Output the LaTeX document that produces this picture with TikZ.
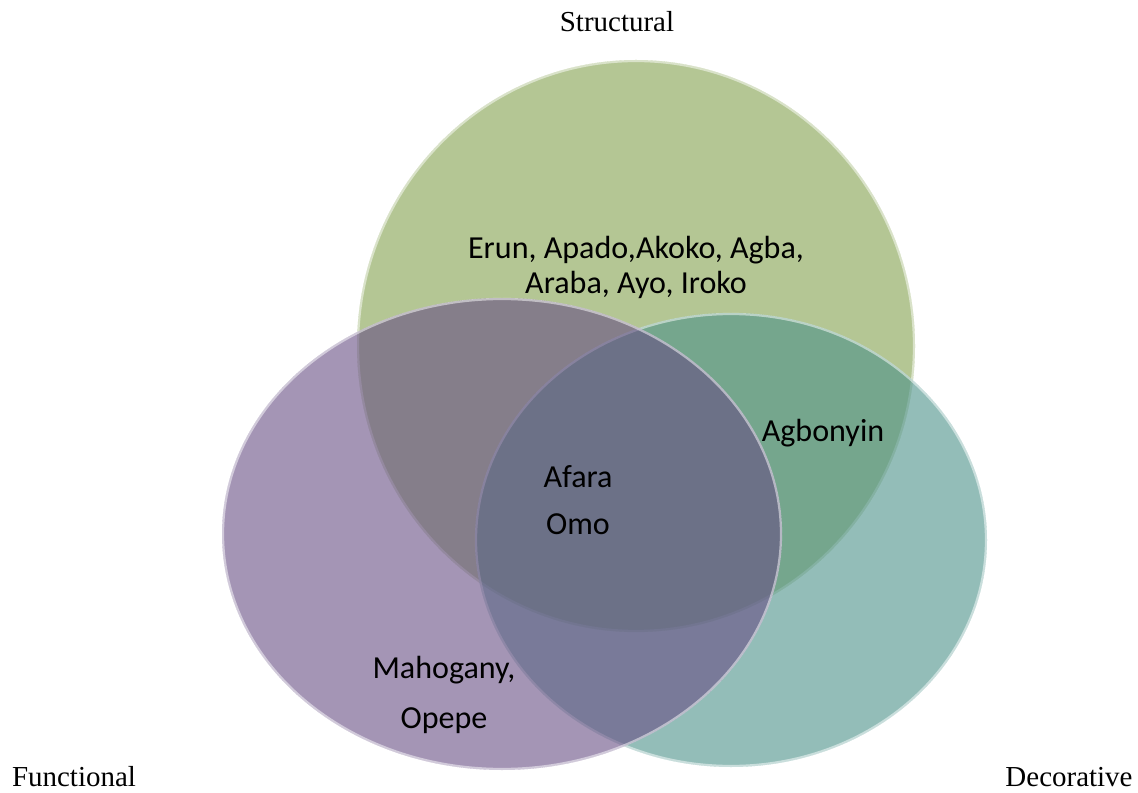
\documentclass[tikz,border=0pt]{standalone}
\usepackage{fontspec}
\setmainfont{Liberation Serif}
\newfontfamily\calfont{Carlito}
\definecolor{structgreen}{RGB}{130, 160, 77}
\definecolor{decoteal}{RGB}{75, 145, 137}
\definecolor{funcpurple}{RGB}{103, 78, 132}
\usetikzlibrary{positioning}
\tikzset{
    vennset/.style={fill opacity=0.6},
    vennrim/.style={draw=white, draw opacity=0.5, line width=1.6pt},
    innerlabel/.style={align=center, text=black,
                       font=\calfont\fontsize{22.8}{24.9}\selectfont},
    setlabel/.style={text=black, inner sep=1pt, font=\fontsize{20.6}{24}\selectfont},
}
\begin{document}
\begin{tikzpicture}[x=0.025cm, y=-0.025cm]
            \useasboundingbox (0,0) rectangle (1138,793);
            
            % Sets
            \fill[vennset, structgreen] (636,346) ellipse [x radius=279, y radius=286];
            \draw[vennrim] (636,346) ellipse [x radius=278, y radius=285];
            
            \fill[vennset, decoteal] (731,540) ellipse [x radius=256, y radius=227];
            \draw[vennrim] (731,540) ellipse [x radius=255, y radius=226];
            
            \fill[vennset, funcpurple] (502,534) ellipse [x radius=280, y radius=236];
            \draw[vennrim] (502,534) ellipse [x radius=279, y radius=235];
            
            % Set names
            \node[setlabel] (structural) at (617,22) {Structural};
            \node[setlabel] (functional) at (74,777) {Functional};
            \node[setlabel] (decorative) at (1069,777) {Decorative};
            
            % Members
            \node[innerlabel] (erun) at (636,267) {Erun, Apado,Akoko, Agba,\\Araba, Ayo, Iroko};
            \node[innerlabel] (agbonyin) at (823,433) {Agbonyin};
            \node[innerlabel, font=\calfont\fontsize{22.8}{33.4}\selectfont] (afara) at (578,500) {Afara\\Omo};
            \node[innerlabel, font=\calfont\fontsize{22.8}{35.6}\selectfont] (mahogany) at (444,695) {Mahogany,\\Opepe};
        \end{tikzpicture}
\end{document}
